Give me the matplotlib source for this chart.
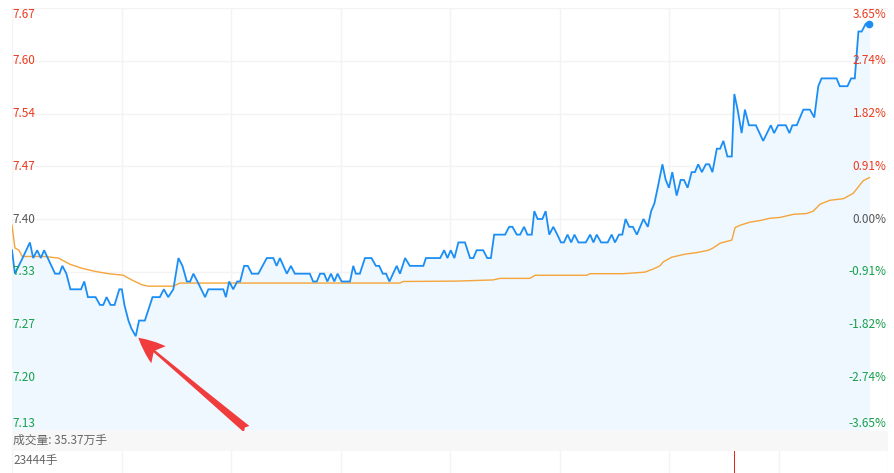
import matplotlib
matplotlib.use('Agg')
import matplotlib.pyplot as plt
from matplotlib.transforms import blended_transform_factory
from matplotlib.patches import Rectangle

plt.rcParams['font.family'] = ['Noto Sans CJK SC', 'DejaVu Sans']

# ---------------- data ----------------
pre_close = 7.40
max_pct = 3.65
total_minutes = 240

left_labels = ['7.67', '7.60', '7.54', '7.47', '7.40', '7.33', '7.27', '7.20', '7.13']
right_labels = ['3.65%', '2.74%', '1.82%', '0.91%', '0.00%', '-0.91%', '-1.82%', '-2.74%', '-3.65%']

price_min = [0, 0.8, 2.9, 4.9, 5.8, 6.9, 7.9, 8.8, 11.8, 13.0, 13.8, 14.9, 16.0, 18.9, 19.8, 20.8,
             22.9, 24.1, 25.0, 25.9, 27.0, 28.1, 29.4, 30.1, 30.8, 31.9, 32.7, 33.9, 34.8, 36.4,
             38.5, 40.5, 41.6, 42.8, 44.2, 45.6, 46.7, 47.9, 48.8, 49.7, 50.8, 52.9, 53.8, 57.9,
             58.6, 59.5, 60.6, 61.7, 62.5, 63.6, 64.6, 65.7, 67.5, 69.8, 71.6, 72.5, 73.4, 75.3,
             76.4, 77.5, 81.6, 82.5, 83.5, 84.4, 85.5, 86.4, 87.4, 88.3, 89.2, 90.3, 92.6, 93.5,
             94.2, 95.3, 96.7, 98.5, 99.7, 100.6, 101.6, 102.5, 103.4, 105.4, 106.3, 107.7, 109.0,
             112.7, 113.4, 117.3, 118.4, 119.3, 120.2, 121.2, 122.3, 124.1, 125.5, 126.4, 127.3,
             129.1, 130.2, 131.2, 132.1, 135.1, 136.2, 137.1, 138.3, 139.2, 140.3, 141.2, 142.4,
             143.1, 144.0, 145.3, 146.2, 147.2, 148.3, 149.4, 150.4, 151.2, 152.2, 153.2, 154.1,
             155.2, 157.2, 158.4, 159.3, 160.2, 161.4, 163.2, 164.3, 165.2, 166.3, 167.2, 168.1,
             169.1, 170.1, 171.2, 172.1, 173.0, 174.2, 175.1, 176.0, 176.9, 178.2, 179.1, 180.0,
             180.9, 182.1, 183.2, 184.1, 185.1, 186.2, 187.1, 188.0, 189.0, 190.1, 191.0, 191.9,
             193.1, 194.0, 194.9, 196.0, 197.2, 197.9, 198.8, 199.9, 200.8, 201.9, 203.8, 205.8,
             207.9, 208.8, 209.9, 212.0, 213.0, 213.8, 215.0, 216.8, 218.6, 219.8, 220.9, 221.8,
             225.9, 226.8, 228.9, 229.9, 230.9, 231.9, 232.8, 233.9, 234.9]
price_val = [7.36, 7.33, 7.35, 7.37, 7.35, 7.36, 7.35, 7.36, 7.33, 7.33, 7.34, 7.33, 7.31, 7.31, 7.32, 7.30,
             7.30, 7.29, 7.29, 7.30, 7.29, 7.29, 7.31, 7.31, 7.29, 7.27, 7.26, 7.25, 7.27, 7.27,
             7.30, 7.30, 7.31, 7.30, 7.31, 7.35, 7.34, 7.32, 7.32, 7.33, 7.32, 7.30, 7.31, 7.31,
             7.30, 7.32, 7.31, 7.32, 7.32, 7.34, 7.34, 7.33, 7.33, 7.35, 7.35, 7.34, 7.35, 7.33,
             7.34, 7.33, 7.33, 7.32, 7.32, 7.33, 7.33, 7.32, 7.33, 7.32, 7.33, 7.32, 7.32, 7.34,
             7.33, 7.33, 7.35, 7.35, 7.34, 7.34, 7.33, 7.33, 7.32, 7.34, 7.33, 7.35, 7.34,
             7.34, 7.35, 7.35, 7.36, 7.35, 7.36, 7.35, 7.37, 7.37, 7.35, 7.35, 7.36,
             7.36, 7.35, 7.35, 7.38, 7.38, 7.39, 7.39, 7.38, 7.38, 7.39, 7.38, 7.38,
             7.41, 7.40, 7.40, 7.41, 7.38, 7.39, 7.38, 7.37, 7.37, 7.38, 7.37, 7.38,
             7.37, 7.37, 7.38, 7.37, 7.38, 7.37, 7.37, 7.38, 7.37, 7.38, 7.38, 7.40,
             7.39, 7.39, 7.38, 7.39, 7.40, 7.39, 7.41, 7.42, 7.44, 7.47, 7.45, 7.44,
             7.46, 7.43, 7.45, 7.45, 7.44, 7.46, 7.46, 7.47, 7.46, 7.47, 7.47, 7.46,
             7.49, 7.49, 7.50, 7.48, 7.48, 7.56, 7.54, 7.51, 7.54, 7.52, 7.52, 7.50,
             7.52, 7.51, 7.52, 7.52, 7.51, 7.52, 7.52, 7.54, 7.54, 7.53, 7.57, 7.58,
             7.58, 7.57, 7.57, 7.58, 7.58, 7.64, 7.64, 7.65, 7.65]

avg_min = [0, 0.8, 1.9, 2.8, 9.0, 12.7, 15.9, 19.1, 22.7, 26.4, 30.5, 32.8, 35.5, 37.3, 44.2, 46.0,
           65.2, 106.3, 107.1, 121.8, 131.8, 133.7, 141.9, 143.3, 157.5, 158.4, 167.5, 173.4, 175.7,
           177.5, 178.4, 180.7, 184.4, 187.6, 190.8, 192.1, 194.0, 197.2, 198.1, 199.5, 202.2, 204.9,
           207.7, 210.4, 214.1, 217.7, 219.5, 221.4, 224.1, 227.8, 230.5, 233.2, 234.9]
avg_val = [7.392, 7.363, 7.360, 7.352, 7.352, 7.350, 7.342, 7.337, 7.333, 7.330, 7.328, 7.322, 7.316,
           7.314, 7.314, 7.318, 7.318, 7.318, 7.320, 7.3205, 7.322, 7.324, 7.324, 7.328, 7.328, 7.330,
           7.330, 7.332, 7.336, 7.340, 7.345, 7.351, 7.355, 7.357, 7.360, 7.363, 7.369, 7.373, 7.389,
           7.392, 7.396, 7.398, 7.401, 7.402, 7.406, 7.407, 7.410, 7.419, 7.424, 7.426, 7.433, 7.449,
           7.453]

vol_min = [198]
vol_val = [23444]
vol_title = '成交量: 35.37万手'
vol_max_label = '23444手'

arrow_tip = (34.6, 7.248)
arrow_tail = (64.3, 7.131)

# ---------------- style ----------------
RED = '#ec3a1e'
GREEN = '#16a04b'
GREY = '#555555'
BLUE = '#1b8ef5'
ORANGE = '#f5a53a'
FILL = '#eff7ff'
GRID = '#f3f3f3'

W, H = 894, 473
fig = plt.figure(figsize=(W / 100, H / 100), dpi=100)
fig.patch.set_facecolor('white')

def fx(px):
    return px / W

def fy(py):
    return 1 - py / H

x0, x1 = 12, 888
p_top, p_bot = 8, 430
ax = fig.add_axes([fx(x0), fy(p_bot), fx(x1 - x0), (p_bot - p_top) / H])
step = pre_close * max_pct / 100 / 4
levels = [pre_close + step * k for k in range(4, -5, -1)]
ax.set_xlim(0, total_minutes)
ax.set_ylim(levels[-1], levels[0])
for s in ax.spines.values():
    s.set_visible(False)
ax.set_xticks([])
ax.set_yticks([])

for lv in levels:
    ax.axhline(lv, color=GRID, lw=1, zorder=0)
for m in range(0, total_minutes + 1, 30):
    ax.axvline(m, color=GRID, lw=1, zorder=0)

ax.fill_between(price_min, price_val, levels[-1], color=FILL, lw=0, zorder=1)
ax.plot(avg_min, avg_val, color=ORANGE, lw=1.0, zorder=3)
ax.plot(price_min, price_val, color=BLUE, lw=1.3, zorder=4, solid_joinstyle='miter')
ax.plot(price_min[-1], price_val[-1], 'o', color=BLUE, ms=4.5, zorder=5)

tr = blended_transform_factory(ax.transAxes, ax.transData)
for i, (lv, ll, rl) in enumerate(zip(levels, left_labels, right_labels)):
    if i < 4:
        c = RED
    elif i == 4:
        c = GREY
    else:
        c = GREEN
    va = 'center'
    if i == 0:
        va = 'top'
    elif i == len(levels) - 1:
        va = 'bottom'
    ax.text(0.001, lv, ll, transform=tr, color=c, fontsize=8.5, ha='left', va=va, zorder=6)
    ax.text(0.9985, lv, rl, transform=tr, color=c, fontsize=8.5, ha='right', va=va, zorder=6)

ax.annotate('', xy=arrow_tip, xytext=arrow_tail, xycoords='data', textcoords='data',
            arrowprops=dict(arrowstyle='fancy,head_length=0.95,head_width=0.8,tail_width=0.3',
                            color='#f03c3c', lw=0, shrinkA=0, shrinkB=0, mutation_scale=20),
            zorder=7, annotation_clip=False)

# grey band
fig.patches.append(Rectangle((fx(x0), fy(450.5)), fx(x1 - x0), (450.5 - 430.5) / H,
                             transform=fig.transFigure, facecolor='#f7f7f7', edgecolor='none',
                             zorder=0))
fig.text(fx(13), fy(440.5), vol_title, fontsize=8.5, color='#666666', ha='left', va='center')

# volume axes (only top visible)
v_top, v_bot = 450.5, 560
vax = fig.add_axes([fx(x0), fy(v_bot), fx(x1 - x0), (v_bot - v_top) / H])
vax.set_xlim(0, total_minutes)
vax.set_ylim(0, max(vol_val))
for s in vax.spines.values():
    s.set_visible(False)
vax.set_xticks([])
vax.set_yticks([])
for m in range(0, total_minutes + 1, 30):
    vax.axvline(m, color=GRID, lw=1, zorder=0)
vax.bar(vol_min, vol_val, width=0.3, color='#e02a1a', zorder=2)
vax.text(0.0012, 0.905, vol_max_label, transform=vax.transAxes, fontsize=8.5, color='#666666',
         ha='left', va='center')

fig.savefig('out.png', dpi=100)
